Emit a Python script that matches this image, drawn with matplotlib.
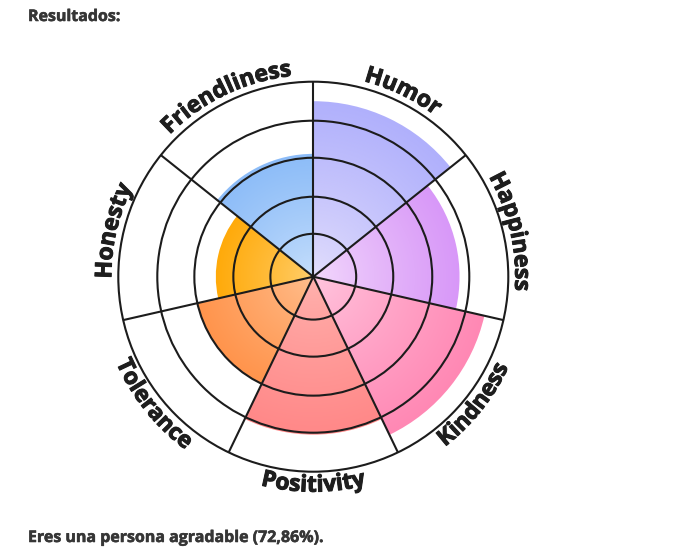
import numpy as np
import matplotlib
matplotlib.use('Agg')
import matplotlib.pyplot as plt
import matplotlib.patheffects as pe
from matplotlib.patches import Wedge, Circle
from matplotlib.colors import to_rgb
from matplotlib.font_manager import FontProperties, findfont, get_font

# data
categories = ['Humor', 'Happiness', 'Kindness', 'Positivity', 'Tolerance', 'Honesty', 'Friendliness']
scores = [90, 75, 90, 81, 61, 50, 63]
inner_colors = ['#e4e0fc', '#f4dcfc', '#ffc8e0', '#ffb4b0', '#ffc090', '#ffd070', '#c8e0fc']
outer_colors = ['#b0b0fc', '#d898f8', '#ff88b4', '#ff8888', '#ff944c', '#ffaa0a', '#8cbcf8']
rings = [22, 41, 61, 80, 100]
title = 'Resultados:'
summary = 'Eres una persona agradable (72,86%).'

W, H = 680, 547
cx, cy = 313.3, 276.7   # wheel centre in pixels
scale = 1.95            # pixels per score unit

fig = plt.figure(figsize=(W / 100, H / 100), dpi=100)
ax = fig.add_axes([0, 0, 1, 1])
ax.axis('off')

step = 360 / len(categories)

# radial gradient wedges
xs = np.linspace(-100, 100, 600)
X, Y = np.meshgrid(xs, xs)
D = np.hypot(X, Y)
for i, val in enumerate(scores):
    t2 = 90 - i * step
    t1 = t2 - step
    c0 = np.array(to_rgb(inner_colors[i]))
    c1 = np.array(to_rgb(outer_colors[i]))
    frac = np.clip(D / val, 0, 1)[..., None] ** 0.8
    img = c0 + (c1 - c0) * frac
    im = ax.imshow(img, extent=(-100, 100, -100, 100), origin='lower',
                   interpolation='bilinear', aspect='auto', zorder=1)
    w = Wedge((0, 0), val, t1, t2, facecolor='none', edgecolor='none')
    ax.add_patch(w)
    im.set_clip_path(w)

# grid rings and spokes
line_c = '#1c1c1c'
for r in rings:
    ax.add_patch(Circle((0, 0), r, fill=False, lw=1.5, ec=line_c, zorder=3))
for i in range(len(categories)):
    th = np.radians(90 - i * step)
    ax.plot([0, rings[-1] * np.cos(th)], [0, rings[-1] * np.sin(th)],
            color=line_c, lw=1.5, zorder=3, solid_capstyle='butt')

# curved labels
fs = 16.5
fp = FontProperties(family='Open Sans', weight='bold', size=fs)
font = get_font(findfont(fp))
font.set_size(fs, 72)
pt2unit = (100 / 72) / scale
heavy = [pe.withStroke(linewidth=0.7, foreground='#1e1e1e')]

for i, cat in enumerate(categories):
    mid = 90 - (i + 0.5) * step
    adv = np.array([font.load_char(ord(ch)).linearHoriAdvance / 65536 for ch in cat]) * pt2unit
    centers = np.cumsum(adv) - adv / 2 - adv.sum() / 2
    top = np.sin(np.radians(mid)) > 0
    rb = 202 / scale if top else 215 / scale
    for ch, s in zip(cat, centers):
        d = np.degrees(s / rb)
        if top:
            th = mid - d
            rot = th - 90
        else:
            th = mid + d
            rot = th + 90
        ax.text(rb * np.cos(np.radians(th)), rb * np.sin(np.radians(th)), ch,
                rotation=rot, rotation_mode='anchor', ha='center', va='baseline',
                fontproperties=fp, color='#1e1e1e', zorder=4, path_effects=heavy)

ax.set_xlim(-cx / scale, (W - cx) / scale)
ax.set_ylim(-(H - cy) / scale, cy / scale)

thin = [pe.withStroke(linewidth=0.4, foreground='#363636')]
fig.text(28 / W, 1 - 17 / H, title, fontsize=11.5, fontweight='bold',
         family='Open Sans', color='#363636', va='center', ha='left', path_effects=thin)
fig.text(28 / W, 1 - 542 / H, summary, fontsize=11.5, fontweight='bold',
         family='Open Sans', color='#363636', va='baseline', ha='left', path_effects=thin)

fig.savefig('out.png', dpi=100, facecolor='white')
